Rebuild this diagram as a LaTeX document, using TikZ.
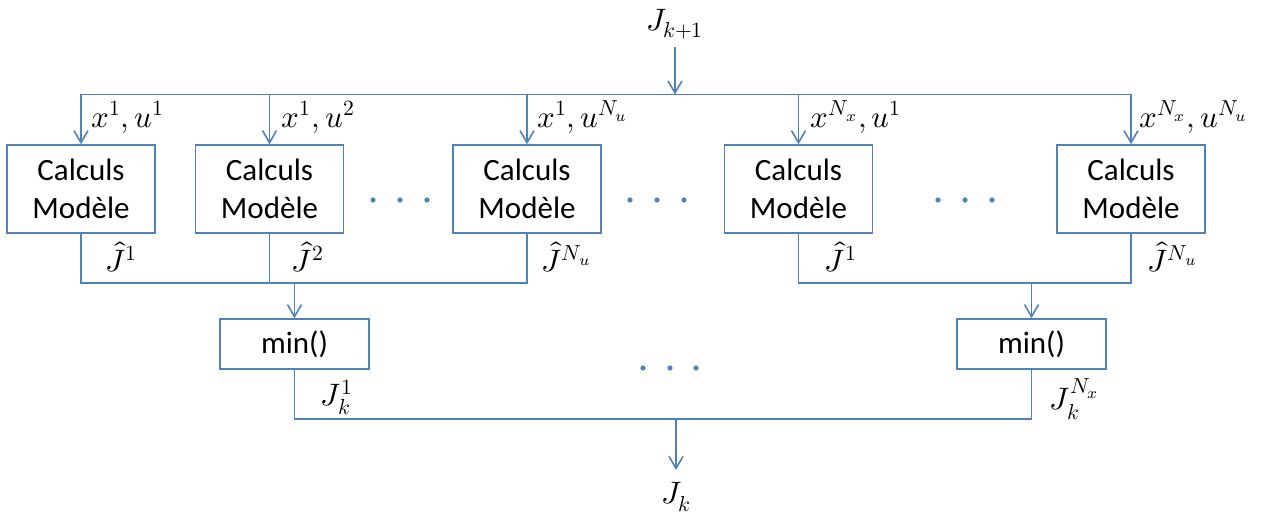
\documentclass[tikz,border=0pt]{standalone}
\usepackage{amsmath}
\usepackage{fontspec}
\usepackage{unicode-math}
\setmainfont{Carlito}
\setmathfont{Latin Modern Math}
\usepackage{tikz}
\usetikzlibrary{arrows.meta}
\definecolor{lineblue}{HTML}{4F81BD}

\begin{document}
\begin{tikzpicture}[x=0.5pt, y=-0.5pt,
    every node/.style={align=center, font=\fontsize{15.5}{19}\selectfont},
    modelbox/.style={draw=lineblue, line width=0.8pt, minimum width=74pt, minimum height=44pt, inner sep=0pt},
    minbox/.style={draw=lineblue, line width=0.8pt, minimum width=74.5pt, minimum height=25pt, inner sep=0pt},
    lbl/.style={inner sep=0pt, font=\fontsize{15.5}{18}\selectfont},
    wire/.style={draw=lineblue, line width=0.8pt},
    feed/.style={wire, -{Straight Barb[length=6pt, width=7pt]}}]
    \useasboundingbox (0,0) rectangle (1263,513);

    % Entree et bus du haut
    \node[lbl, anchor=south] (Jin) at (675,40) {$J_{k+1}$};
    \coordinate (bus) at (675,94.5);

    % Blocs de calcul du modele
    \node[modelbox] (m1) at (81,189) {Calculs\\Modèle};
    \node[modelbox] (m2) at (269.5,189) {Calculs\\Modèle};
    \node[modelbox] (m3) at (527,189) {Calculs\\Modèle};
    \node[modelbox] (m4) at (798.5,189) {Calculs\\Modèle};
    \node[modelbox] (m5) at (1131,189) {Calculs\\Modèle};

    % Blocs min()
    \node[minbox] (min1) at (294.5,344) {min()};
    \node[minbox] (min2) at (1031.5,344) {min()};

    % Sortie
    \node[lbl, anchor=north] (Jout) at (676,482) {$J_k$};
    \coordinate (s1) at (294.5,283);
    \coordinate (s2) at (1031.5,283);
    \coordinate (out) at (676,419);

    % Distribution vers les blocs
    \draw[feed] ([yshift=-3.5pt]Jin.south) -- (bus);
    \draw[wire] (m1.north |- bus) -- (m5.north |- bus);
    \draw[feed] (m1.north |- bus) -- (m1.north);
    \draw[feed] (m2.north |- bus) -- (m2.north);
    \draw[feed] (m3.north |- bus) -- (m3.north);
    \draw[feed] (m4.north |- bus) -- (m4.north);
    \draw[feed] (m5.north |- bus) -- (m5.north);

    % Etiquettes des entrees
    \node[lbl, anchor=base west] (e1) at ([xshift=5pt, yshift=8.5pt]m1.north) {$x^1, u^1$};
    \node[lbl, anchor=base west] (e2) at ([xshift=6pt, yshift=8.5pt]m2.north) {$x^1, u^2$};
    \node[lbl, anchor=base west] (e3) at ([xshift=5pt, yshift=8.5pt]m3.north) {$x^1, u^{N_u}$};
    \node[lbl, anchor=base west] (e4) at ([xshift=6pt, yshift=8.5pt]m4.north) {$x^{N_x}, u^1$};
    \node[lbl, anchor=base west] (e5) at ([xshift=4pt, yshift=8.5pt]m5.north) {$x^{N_x}, u^{N_u}$};

    % Regroupement des couts
    \draw[wire] (m1.south) |- (m3.south |- s1) -- (m3.south);
    \draw[wire] (m2.south) -- (m2.south |- s1);
    \draw[feed] (s1) -- (min1.north);
    \draw[wire] (m4.south) |- (m5.south |- s2) -- (m5.south);
    \draw[feed] (s2) -- (min2.north);

    % Etiquettes des couts
    \node[lbl, anchor=base west] (c1) at ([xshift=12pt, yshift=-19pt]m1.south) {$\hat{J}^1$};
    \node[lbl, anchor=base west] (c2) at ([xshift=11pt, yshift=-19pt]m2.south) {$\hat{J}^2$};
    \node[lbl, anchor=base west] (c3) at ([xshift=7pt, yshift=-19pt]m3.south) {$\hat{J}^{N_u}$};
    \node[lbl, anchor=base west] (c4) at ([xshift=13pt, yshift=-19pt]m4.south) {$\hat{J}^1$};
    \node[lbl, anchor=base west] (c5) at ([xshift=8pt, yshift=-19pt]m5.south) {$\hat{J}^{N_u}$};

    % Vers la sortie
    \draw[wire] (min1.south) |- (out) -| (min2.south);
    \draw[feed] (out) -- ([yshift=6pt]Jout.north);
    \node[lbl, anchor=base west] (k1) at ([xshift=13pt, yshift=-18pt]min1.south) {$J_k^1$};
    \node[lbl, anchor=base west] (k2) at ([xshift=9pt, yshift=-20pt]min2.south) {$J_k^{N_x}$};

    % Points de suspension
    \fill[lineblue] (373,200) circle (1.3pt) (400,200) circle (1.3pt) (427,200) circle (1.3pt);
    \fill[lineblue] (630,200) circle (1.3pt) (657,200) circle (1.3pt) (684,200) circle (1.3pt);
    \fill[lineblue] (938,200) circle (1.3pt) (965,200) circle (1.3pt) (992,200) circle (1.3pt);
    \fill[lineblue] (643,368) circle (1.3pt) (670,368) circle (1.3pt) (696,368) circle (1.3pt);
\end{tikzpicture}
\end{document}
